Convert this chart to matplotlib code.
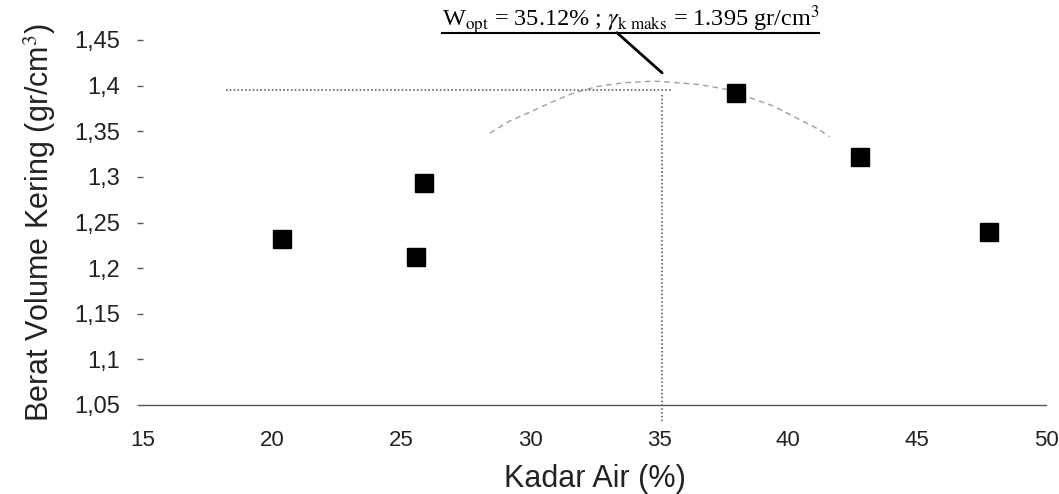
import matplotlib
matplotlib.use("Agg")
import matplotlib.pyplot as plt
from matplotlib.lines import Line2D

# compaction test results
kadar_air = [20.4, 25.6, 25.9, 38.0, 42.8, 47.8]
berat_kering = [1.232, 1.212, 1.293, 1.392, 1.322, 1.240]

# visible part of the fitted trend curve
curve_x = [28.45, 29.2, 30.0, 30.85, 31.7, 32.6, 33.6, 34.8, 35.8, 36.6, 37.6, 38.8, 39.4, 41.2, 41.6]
curve_y = [1.348, 1.361, 1.371, 1.382, 1.392, 1.399, 1.403, 1.405, 1.403, 1.401, 1.396, 1.384, 1.378, 1.352, 1.344]

# optimum point
w_opt = 35.12
gamma_maks = 1.395

x_ticks = [15, 20, 25, 30, 35, 40, 45, 50]
y_ticks = [1.05, 1.1, 1.15, 1.2, 1.25, 1.3, 1.35, 1.4, 1.45]
y_ticklabels = ['1,05', '1,1', '1,15', '1,2', '1,25', '1,3', '1,35', '1,4', '1,45']

plt.rcParams['font.family'] = ['Liberation Sans', 'DejaVu Sans']
plt.rcParams['mathtext.fontset'] = 'stix'

fig = plt.figure(figsize=(10.59, 4.94), dpi=100)
ax = fig.add_axes([143/1059, 89/494, 903/1059, 365/494])

# trend curve
ax.plot(curve_x, curve_y, color='0.62', lw=1, ls=(0, (4, 3)), zorder=2)

# dotted guide lines to the optimum
ax.plot([18.2, w_opt + 0.4], [gamma_maks, gamma_maks], color='0.3', lw=1.1, ls=(0, (1, 1.5)), zorder=2)
ax.plot([w_opt, w_opt], [gamma_maks - 0.005, 1.03], color='0.3', lw=1.1, ls=(0, (1, 1.5)),
        zorder=2, clip_on=False)

# data points
ax.plot(kadar_air, berat_kering, ls='none', marker='s', ms=13, color='black', zorder=3)

ax.set_xlim(15, 50)
ax.set_ylim(1.05, 1.45)
ax.set_xticks(x_ticks)
ax.set_xticklabels([str(t) for t in x_ticks])
ax.set_yticks(y_ticks)
ax.set_yticklabels(y_ticklabels)

for s in ['top', 'right', 'left']:
    ax.spines[s].set_visible(False)
ax.spines['bottom'].set_color('0.35')
ax.spines['bottom'].set_linewidth(1)

ax.tick_params(axis='x', length=0, pad=18, labelsize=16, labelcolor='#222222')
ax.tick_params(axis='y', direction='out', length=4.5, width=1, color='0.35',
               pad=12, labelsize=17, labelcolor='#222222')

ax.set_xlabel('Kadar Air (%)', fontsize=22, color='#222222', labelpad=9)
ax.set_ylabel('Berat Volume Kering (gr/cm$^3$)', fontsize=22, color='#222222', labelpad=12)

# annotation of the optimum
label = (r'W$_{\mathrm{opt}}$ = 35.12% ; $\gamma_{\mathrm{k\ maks}}$ = 1.395 gr/cm$^{3}$')
txt = ax.text(33.9, 1.472, label, ha='center', va='center', fontsize=17.5,
              family=['Liberation Serif', 'DejaVu Serif'], clip_on=False)
ax.annotate('', xy=(w_opt, 1.414), xytext=(33.37, 1.458),
            arrowprops=dict(arrowstyle='-', lw=2, color='black', shrinkA=0, shrinkB=0),
            annotation_clip=False)

# underline below the annotation text
fig.canvas.draw()
bb = txt.get_window_extent().transformed(fig.transFigure.inverted())
y_line = ax.transData.transform((0, 1.458))
y_line = fig.transFigure.inverted().transform(y_line)[1]
fig.add_artist(Line2D([bb.x0, bb.x1], [y_line, y_line], color='black', lw=1.5))

fig.savefig('out.png', dpi=100)
